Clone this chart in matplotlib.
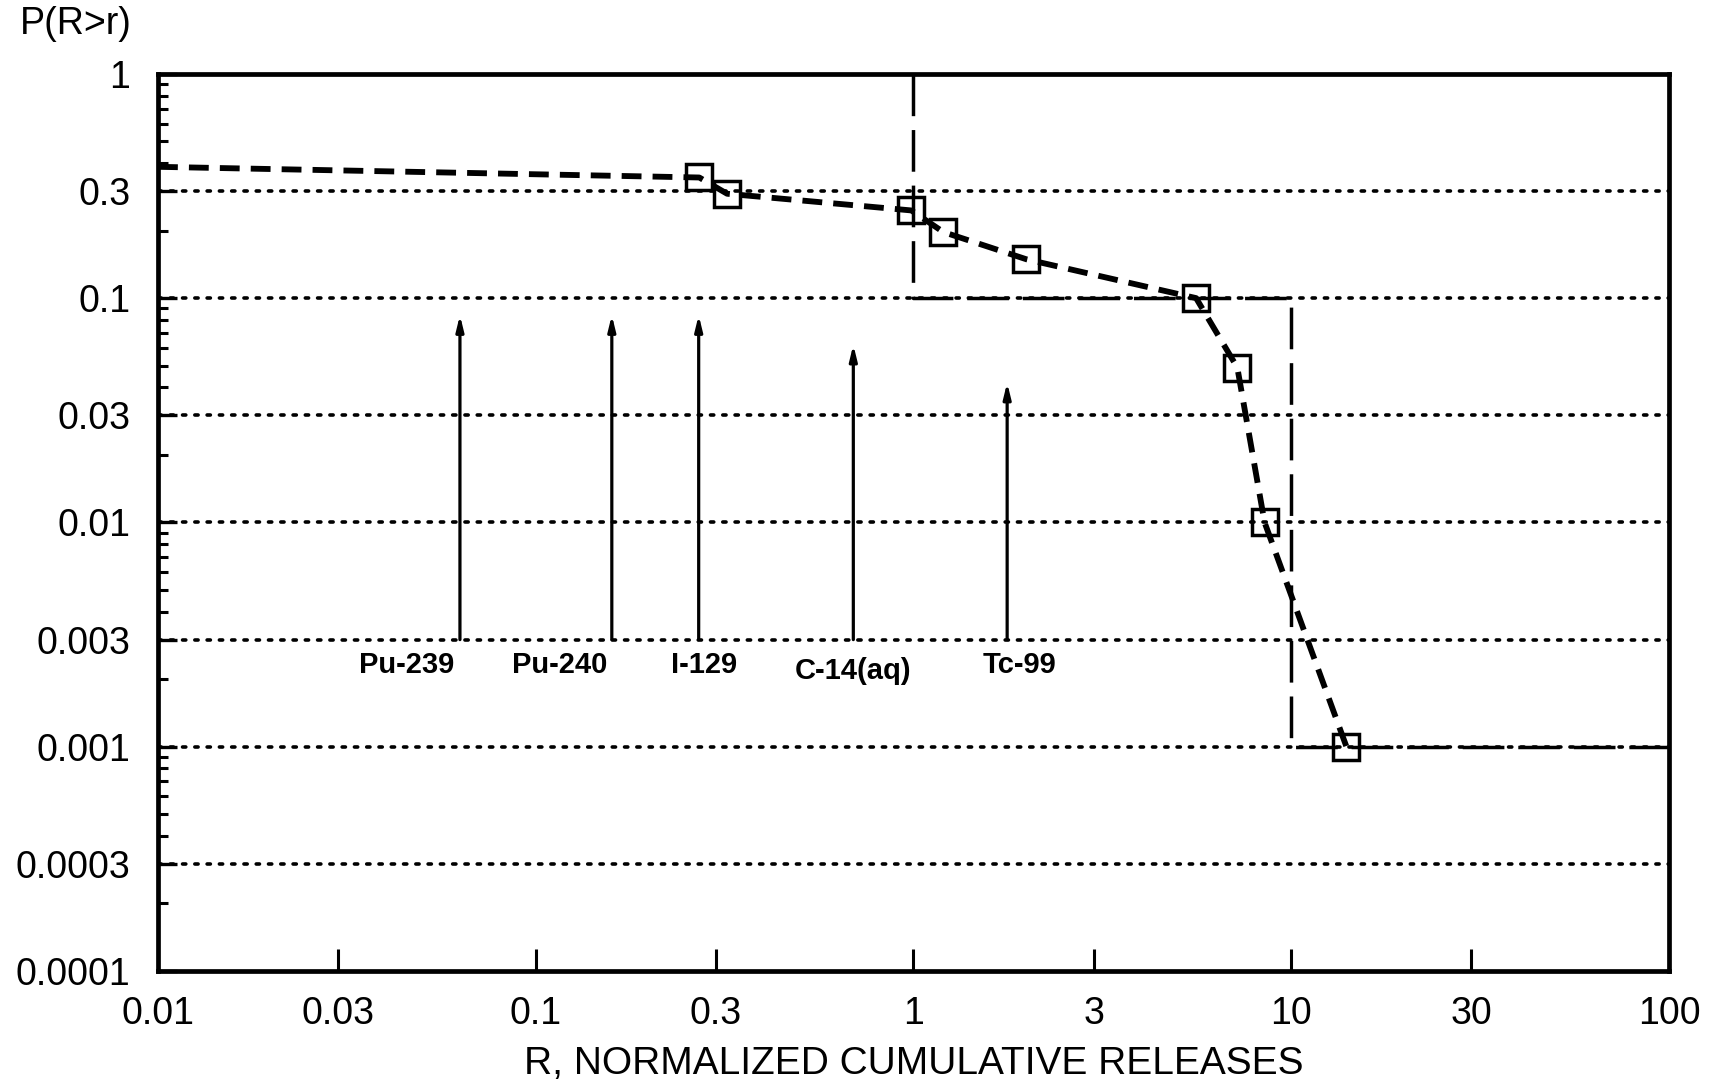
import matplotlib
matplotlib.use("Agg")
import matplotlib.pyplot as plt
from matplotlib.ticker import FixedLocator, FixedFormatter, NullFormatter

plt.rcParams['font.family'] = ['Liberation Sans', 'DejaVu Sans']

# ---- data ----
start_r = 0.01
start_p = 0.385
curve_r = [0.271, 0.321, 0.987, 1.20, 1.99, 5.6, 7.2, 8.5, 14.0]
curve_p = [0.345, 0.292, 0.246, 0.197, 0.149, 0.100, 0.049, 0.0100, 0.00100]

limit_r = [1, 1, 10, 10, 100]
limit_p = [1, 0.1, 0.1, 0.001, 0.001]

nuclides = ['Pu-239', 'Pu-240', 'I-129', 'C-14(aq)', 'Tc-99']
nuclide_r = [0.063, 0.159, 0.270, 0.693, 1.77]
nuclide_top_p = [0.084, 0.084, 0.084, 0.062, 0.042]
nuclide_base_p = 0.003

x_ticks = [0.01, 0.03, 0.1, 0.3, 1, 3, 10, 30, 100]
x_labels = ['0.01', '0.03', '0.1', '0.3', '1', '3', '10', '30', '100']
y_ticks = [0.0001, 0.0003, 0.001, 0.003, 0.01, 0.03, 0.1, 0.3, 1]
y_labels = ['0.0001', '0.0003', '0.001', '0.003', '0.01', '0.03', '0.1', '0.3', '1']
grid_p = [0.0003, 0.001, 0.003, 0.01, 0.03, 0.1, 0.3]

# label offsets (pixels) relative to arrow base
label_dx = [-53, -52, 5, 0, 12]
label_dy = [-11, -11, -11, -17, -11]

fig = plt.figure(figsize=(17.10, 10.86), dpi=100)
ax = fig.add_axes([0.0924, 0.106, 0.976 - 0.0924, 0.932 - 0.106])
ax.set_xscale('log')
ax.set_yscale('log')
ax.set_xlim(0.01, 100)
ax.set_ylim(0.0001, 1)

# grid lines
for g in grid_p:
    ax.axhline(g, color='black', lw=2.6, linestyle=(0, (0.9, 2.5)),
               dash_capstyle='round', zorder=1)

# limit step line
ax.plot(limit_r, limit_p, color='black', lw=2.5, linestyle=(0, (12, 4)), zorder=2)

# CCDF curve
ax.plot([start_r] + curve_r, [start_p] + curve_p, color='black', lw=4.2,
        linestyle=(0, (3.4, 1.9)), zorder=3)
ax.plot(curve_r, curve_p, linestyle='none', marker='s', markersize=19,
        markerfacecolor='none', markeredgecolor='black', markeredgewidth=2.5, zorder=4)

# arrows
for name, r, tp, dx, dy in zip(nuclides, nuclide_r, nuclide_top_p, label_dx, label_dy):
    ax.annotate('', xy=(r, tp), xytext=(r, nuclide_base_p),
                arrowprops=dict(arrowstyle='-|>,head_length=0.9,head_width=0.22',
                                color='black', lw=2.3, shrinkA=0, shrinkB=0),
                zorder=3)
    ax.annotate(name, xy=(r, nuclide_base_p), xytext=(dx, dy), textcoords='offset pixels',
                ha='center', va='top', fontsize=21, fontweight='bold')

# ticks
ax.xaxis.set_major_locator(FixedLocator(x_ticks))
ax.xaxis.set_major_formatter(FixedFormatter(x_labels))
ax.xaxis.set_minor_locator(FixedLocator([]))
ax.xaxis.set_minor_formatter(NullFormatter())
ax.yaxis.set_major_locator(FixedLocator(y_ticks))
ax.yaxis.set_major_formatter(FixedFormatter(y_labels))
minors = []
for d in [0.0001, 0.001, 0.01, 0.1]:
    for m in [2, 4, 5, 6, 7, 8, 9]:
        minors.append(d * m)
ax.yaxis.set_minor_locator(FixedLocator(minors))
ax.yaxis.set_minor_formatter(NullFormatter())

ax.tick_params(axis='x', which='major', direction='in', length=16, width=2.2,
               labelsize=27, pad=18, top=False)
ax.tick_params(axis='y', which='major', direction='in', length=14, width=2.4,
               labelsize=27, pad=20, right=False)
ax.tick_params(axis='y', which='minor', direction='in', length=7, width=2.2, right=False)

for s in ax.spines.values():
    s.set_linewidth(3.4)
    s.set_zorder(5)

ax.set_xlabel('R, NORMALIZED CUMULATIVE RELEASES', fontsize=28, labelpad=10)
fig.text(0.0117, 0.978, 'P(R>r)', fontsize=27, ha='left', va='center')

fig.savefig('out.png', dpi=100)
